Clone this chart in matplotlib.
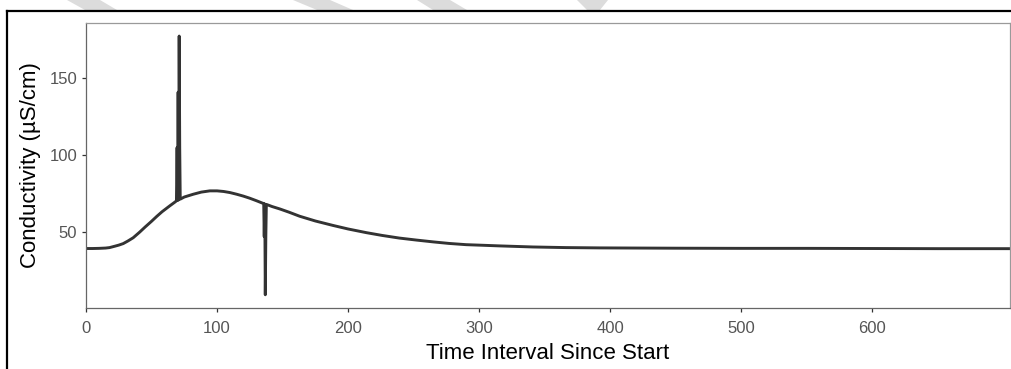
import numpy as np
import matplotlib.pyplot as plt
from matplotlib.patches import Polygon
from matplotlib.lines import Line2D

# Conductivity readings
time_s = [0, 5, 10, 15, 18, 22, 25, 28.4, 32, 36, 41, 45, 50, 54, 58, 64, 68,
          69.0, 69.5, 69.9, 70.3, 70.7, 71.1, 71.5, 71.9,
          75, 81.8, 88, 94.5, 100, 105, 109.8, 115, 120, 125, 130,
          135.6, 136.0, 136.4, 136.8, 137.2, 137.6,
          142, 148, 155, 163, 175, 188.5, 200, 214, 226, 239, 252, 265, 277,
          290, 303, 315.5, 341, 366, 392, 420, 450, 500, 550, 600, 650, 705]
conductivity = [39.3, 39.3, 39.4, 39.6, 39.9, 40.8, 41.5, 42.5, 44.2, 46.3, 50.0,
                53.2, 57.0, 60.2, 63.2, 67.1, 69.6,
                70.3, 105, 70.6, 141, 70.9, 177.5, 105, 71.4,
                72.8, 74.6, 76.0, 76.8, 76.8, 76.4, 75.7, 74.6, 73.4, 72.0, 70.4,
                68.5, 47, 68.3, 9.2, 47, 68.0,
                66.6, 65.0, 62.9, 60.3, 57.2, 54.3, 52.0, 49.6, 47.8, 46.1, 44.8,
                43.6, 42.6, 41.8, 41.4, 41.0, 40.3, 39.9, 39.7, 39.6, 39.5, 39.4,
                39.4, 39.3, 39.2, 39.2]

x_ticks = [0, 100, 200, 300, 400, 500, 600]
y_ticks = [50, 100, 150]

plt.rcParams['font.family'] = ['Liberation Sans', 'DejaVu Sans']

W, H = 1012, 369
fig = plt.figure(figsize=(W / 100, H / 100), dpi=100)

# faint watermark fragments along the top edge
stripes = [
    [(67, 0), (100, 0), (117, 10), (85, 10)],
    [(293, 0), (330, 0), (353, 10), (317, 10)],
    [(417, 0), (450, 0), (467, 10), (433, 10)],
    [(577, 0), (608, 0), (600, 10), (587, 10)],
]
for pts in stripes:
    fig.patches.append(Polygon([(x / W, 1 - y / H) for x, y in pts],
                               closed=True, transform=fig.transFigure,
                               facecolor='#dcdcdc', edgecolor='none'))

# black frame round the figure (top and left visible)
fig.lines.append(Line2D([7 / W, 1.01], [1 - 11 / H, 1 - 11 / H],
                        transform=fig.transFigure, color='black', lw=1.6))
fig.lines.append(Line2D([7 / W, 7 / W], [-0.01, 1 - 11 / H],
                        transform=fig.transFigure, color='black', lw=1.6))

ax = fig.add_axes([86 / W, (H - 308) / H, (1010 - 86) / W, (308 - 23) / H])
ax.plot(time_s, conductivity, color='#333333', lw=2.1, solid_joinstyle='round')

ax.set_xlim(0, 705)
ax.set_ylim(0.6, 186)
ax.set_xticks(x_ticks)
ax.set_yticks(y_ticks)

for side in ['top', 'right']:
    ax.spines[side].set_color('#9a9a9a')
    ax.spines[side].set_linewidth(0.9)
for side in ['left', 'bottom']:
    ax.spines[side].set_color('#666666')
    ax.spines[side].set_linewidth(0.9)

ax.tick_params(axis='both', length=3.2, width=0.9, color='#333333',
               labelcolor='#555555', labelsize=12)
ax.tick_params(axis='x', pad=6)
ax.tick_params(axis='y', pad=3)
ax.set_xlabel('Time Interval Since Start', fontsize=16, color='black', labelpad=5)
ax.set_ylabel('Conductivity (µS/cm)', fontsize=16, color='black', labelpad=6)

fig.savefig('out.png', dpi=100)
